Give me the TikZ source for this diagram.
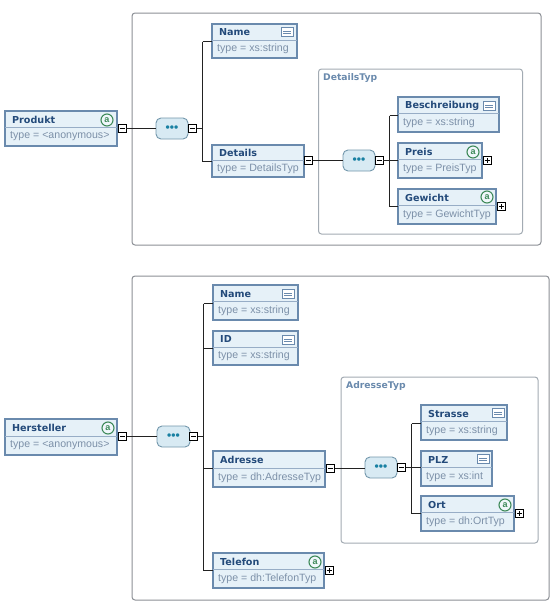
\documentclass[tikz,border=0pt]{standalone}
\usepackage{fontspec}
\setmainfont{DejaVu Sans}
\newfontfamily\typefont{Liberation Sans}
\definecolor{bordc}{HTML}{6A8AAD}
\definecolor{fillc}{HTML}{E6F1F8}
\definecolor{titlec}{HTML}{234A7A}
\definecolor{typec}{HTML}{7C90A8}
\definecolor{framec}{HTML}{8C9096}
\definecolor{typframe}{HTML}{A3ABB3}
\definecolor{seqfill}{HTML}{D8EAF3}
\definecolor{seqbord}{HTML}{7397AC}
\definecolor{greenc}{HTML}{3F8A5A}
\definecolor{linec}{HTML}{222222}
\tikzset{
  x=1pt,y=-1pt,
  elembox/.style={draw=bordc,line width=1.8pt,fill=fillc,inner sep=0pt,outer sep=0pt},
  titletext/.style={text=titlec,font=\fontsize{9.6}{11}\selectfont\bfseries,anchor=west,inner sep=0pt},
  typetext/.style={text=typec,font=\typefont\fontsize{10.6}{12}\selectfont,anchor=west,inner sep=0pt},
  groupbox/.style={draw=framec,line width=1pt,rounded corners=3pt,fill=white},
  typebox/.style={draw=typframe,line width=1pt,rounded corners=3pt,fill=white},
  grouptitle/.style={text=bordc,font=\fontsize{9.2}{11}\selectfont\bfseries,anchor=west,inner sep=0pt},
  seqbox/.style={draw=seqbord,line width=.9pt,fill=seqfill,rounded corners=5pt,inner sep=0pt,outer sep=0pt,
     text=titlec!70!cyan,font=\typefont\fontsize{12}{12}\selectfont\bfseries},
  togglebox/.style={draw=black,line width=1pt,fill=white,minimum size=8pt,inner sep=0pt,outer sep=0pt},
  conn/.style={draw=linec,line width=1.2pt},
  attricon/.style={circle,draw=greenc,line width=1.1pt,fill=fillc!60!white,minimum size=12pt,inner sep=0pt,
     text=greenc,font=\typefont\fontsize{9}{8}\selectfont\bfseries},
  texticon/.style={draw=bordc,line width=.9pt,fill=white,minimum width=12pt,minimum height=9pt,inner sep=0pt},
}
% \elem{name}{x1}{y1}{x2}{y2}{title}{type}
\newcommand{\elem}[7]{%
  \pgfmathsetmacro{\cxv}{(#2+#4)/2}\pgfmathsetmacro{\cyv}{(#3+#5)/2}%
  \pgfmathsetmacro{\wv}{#4-#2}\pgfmathsetmacro{\hv}{#5-#3}%
  \pgfmathsetmacro{\dv}{#3+(#5-#3)*0.47}\pgfmathsetmacro{\tv}{#3+(#5-#3)*0.245}%
  \pgfmathsetmacro{\bv}{#3+(#5-#3)*0.73}\pgfmathsetmacro{\lv}{#2+7}\pgfmathsetmacro{\bbv}{#2+5}%
  \node[elembox,minimum width=\wv pt,minimum height=\hv pt] (#1) at (\cxv,\cyv) {};
  \draw[bordc!70,line width=.6pt] (#2,\dv) -- (#4,\dv);
  \node[titletext] (#1t) at (\lv,\tv) {#6};
  \node[typetext] (#1y) at (\bbv,\bv) {#7};
}
\newcommand{\attr}[3]{\node[attricon] (#1) at (#2,#3) {a};}
\newcommand{\txticon}[3]{\node[texticon] (#1) at (#2,#3) {};
  \draw[bordc,line width=.6pt] (#1.center) ++(-4,-1.2) -- ++(8,0) ++(-8,2.4) -- ++(8,0);}
\newcommand{\minusbox}[3]{\node[togglebox] (#1) at (#2,#3) {};
  \draw[black,line width=.9pt] (#1.center) ++(-2.5,0) -- ++(5,0);}
\newcommand{\plusbox}[3]{\node[togglebox] (#1) at (#2,#3) {};
  \draw[black,line width=.9pt] (#1.center) ++(-2.5,0) -- ++(5,0) ++(-2.5,-2.5) -- ++(0,5);}
\newcommand{\seqnode}[5]{%
  \pgfmathsetmacro{\cxv}{(#2+#4)/2}\pgfmathsetmacro{\cyv}{(#3+#5)/2}%
  \pgfmathsetmacro{\wv}{#4-#2}\pgfmathsetmacro{\hv}{#5-#3}%
  \node[seqbox,minimum width=\wv pt,minimum height=\hv pt] (#1) at (\cxv,\cyv) {•••};}
\begin{document}
\begin{tikzpicture}
\useasboundingbox[fill=white] (0,0) rectangle (550,605);
% frames
\node[groupbox,minimum width=409pt,minimum height=232pt] (frameA) at (336.5,129) {};
\node[typebox,minimum width=204pt,minimum height=165pt] (frameAT) at (420.5,151.5) {};
\node[grouptitle] (frameATt) at (323,78) {DetailsTyp};
\node[groupbox,minimum width=417pt,minimum height=324pt] (frameB) at (340.5,438) {};
\node[typebox,minimum width=197pt,minimum height=166pt] (frameBT) at (439.5,460) {};
\node[grouptitle] (frameBTt) at (346,386) {AdresseTyp};
% top elements
\elem{prod}{5}{111}{117}{146}{Produkt}{type = <anonymous>}
\elem{nameA}{212}{24}{297}{58}{Name}{type = xs:string}
\elem{details}{212}{145}{304}{177}{Details}{type = DetailsTyp}
\elem{besch}{398}{97}{499}{132}{Beschreibung}{type = xs:string}
\elem{preis}{398}{143}{482}{178}{Preis}{type = PreisTyp}
\elem{gew}{398}{189}{496}{224}{Gewicht}{type = GewichtTyp}
\attr{prodI}{107}{120}
\txticon{nameAI}{287}{32}
\txticon{beschI}{489}{106}
\attr{preisI}{473}{152}
\attr{gewI}{487}{197}
\minusbox{prodM}{122}{128.5}
\seqnode{seqA}{156}{118}{188}{139}
\minusbox{seqAM}{192.5}{128.5}
\coordinate (spA) at (202.5,128.5);
\coordinate (spAt) at (202.5,41.5);
\coordinate (spAb) at (202.5,161.5);
\minusbox{detM}{308.5}{160.5}
\seqnode{seqB}{343}{150}{375}{171}
\minusbox{seqBM}{379}{160.5}
\coordinate (spB) at (389.5,160.5);
\coordinate (spBt) at (389.5,115.5);
\coordinate (spBb) at (389.5,206.5);
\plusbox{preisP}{487}{160.5}
\plusbox{gewP}{501.5}{206.5}
\draw[conn] (prodM) -- (seqA.west |- prodM);
\draw[conn] (seqAM) -- (spA);
\draw[conn] (spAt) -- (spAb);
\draw[conn] (spAt) -- (nameA.west |- spAt);
\draw[conn] (spAb) -- (details.west |- spAb);
\draw[conn] (detM) -- (seqB.west |- detM);
\draw[conn] (seqBM) -- (spB);
\draw[conn] (spBt) -- (spBb);
\draw[conn] (spBt) -- (besch.west |- spBt);
\draw[conn] (spB) -- (preis.west |- spB);
\draw[conn] (spBb) -- (gew.west |- spBb);
% bottom elements
\elem{herst}{5}{419}{117}{455}{Hersteller}{type = <anonymous>}
\elem{nameB}{213}{285}{298}{320}{Name}{type = xs:string}
\elem{idB}{213}{331}{298}{365}{ID}{type = xs:string}
\elem{adr}{213}{451}{325}{487}{Adresse}{type = dh:AdresseTyp}
\elem{tel}{213}{553}{324}{588}{Telefon}{type = dh:TelefonTyp}
\elem{str}{421}{405}{507}{440}{Strasse}{type = xs:string}
\elem{plz}{421}{451}{492}{486}{PLZ}{type = xs:int}
\elem{ort}{421}{496}{514}{531}{Ort}{type = dh:OrtTyp}
\attr{herstI}{108}{428}
\txticon{nameBI}{288}{294}
\txticon{idBI}{288}{340}
\attr{telI}{315}{562}
\txticon{strI}{498}{413}
\txticon{plzI}{483}{459}
\attr{ortI}{505}{505}
\minusbox{herstM}{122.5}{436.5}
\seqnode{seqC}{157}{426}{190}{447}
\minusbox{seqCM}{193.5}{436.5}
\coordinate (spC) at (203.5,436.5);
\coordinate (spCt) at (203.5,303.5);
\coordinate (spCid) at (203.5,348.5);
\coordinate (spCa) at (203.5,468.5);
\coordinate (spCb) at (203.5,570.5);
\minusbox{adrM}{330.5}{468.5}
\seqnode{seqD}{365}{457}{397}{478}
\minusbox{seqDM}{401.5}{467.5}
\coordinate (spD) at (411.5,467.5);
\coordinate (spDt) at (411.5,423.5);
\coordinate (spDb) at (411.5,513.5);
\plusbox{ortP}{519.5}{513.5}
\plusbox{telP}{329}{570.5}
\draw[conn] (herstM) -- (seqC.west |- herstM);
\draw[conn] (seqCM) -- (spC);
\draw[conn] (spCt) -- (spCb);
\draw[conn] (spCt) -- (nameB.west |- spCt);
\draw[conn] (spCid) -- (idB.west |- spCid);
\draw[conn] (spCa) -- (adr.west |- spCa);
\draw[conn] (spCb) -- (tel.west |- spCb);
\draw[conn] (adrM) -- (seqD.west |- adrM);
\draw[conn] (seqDM) -- (spD);
\draw[conn] (spDt) -- (spDb);
\draw[conn] (spDt) -- (str.west |- spDt);
\draw[conn] (spD) -- (plz.west |- spD);
\draw[conn] (spDb) -- (ort.west |- spDb);
\end{tikzpicture}
\end{document}
